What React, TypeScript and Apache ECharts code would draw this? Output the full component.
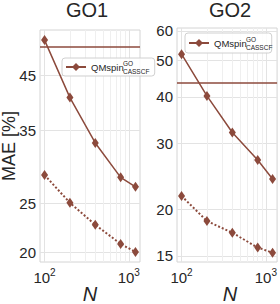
import React, { useEffect, useRef } from "react";
import * as echarts from "echarts";

const N = [100, 200, 400, 800, 1200];
const go1Solid = [52.8, 40.6, 33.0, 28.2, 27.0];
const go1Dotted = [28.5, 25.1, 22.7, 20.8, 20.05];
const go1Ref = 51.4;
const go2Solid = [52.0, 40.2, 32.1, 27.1, 24.1];
const go2Dotted = [21.7, 18.6, 17.3, 15.8, 15.3];
const go2Ref = 43.3;
const go1Ticks = [20, 25, 35, 45];
const go2Ticks = [15, 20, 30, 40, 50, 60];
const xMajor = [100, 1000];
const xMinor = [200, 300, 400, 500, 600, 700, 800, 900];
const go1YRange = [19.15, 55.3];
const go2YRange = [14.45, 61.1];
const xRange = [88.3, 1358];

const COLOR = "#8C4A3C";
const FONT = "Liberation Sans, Arial, sans-serif";
const TXT = "#262626";
const lg = Math.log10;

function pts(vals: number[]) {
  return N.map((n, i) => [lg(n), lg(vals[i])]);
}

export default function App() {
  const ref = useRef<HTMLDivElement>(null);
  useEffect(() => {
    const chart = echarts.init(ref.current!, null, { renderer: "svg" });
    const grids = [
      { left: 40, top: 30, width: 100, height: 232 },
      { left: 177, top: 28, width: 103, height: 234 },
    ];
    const xMain = (gi: number) => ({
      type: "value",
      gridIndex: gi,
      min: lg(xRange[0]),
      max: lg(xRange[1]),
      axisLine: { show: false },
      axisTick: { show: false, customValues: xMajor.map(lg) },
      splitLine: { show: true, lineStyle: { color: "#e3e3e3", width: 1 } },
      axisLabel: {
        customValues: xMajor.map(lg),
        margin: 5,
        formatter: (v: number) => "{b|10}{s|" + Math.round(v) + "}",
        rich: {
          b: { fontSize: 15, fontFamily: FONT, color: TXT, lineHeight: 18, verticalAlign: "bottom" },
          s: { fontSize: 10, fontFamily: FONT, color: TXT, lineHeight: 10, verticalAlign: "top" },
        },
      },
    });
    const xMinorAxis = (gi: number) => ({
      type: "value",
      gridIndex: gi,
      min: lg(xRange[0]),
      max: lg(xRange[1]),
      axisLine: { show: false },
      axisTick: { show: false, customValues: xMinor.map(lg) },
      axisLabel: { show: false, customValues: xMinor.map(lg) },
      splitLine: { show: true, lineStyle: { color: "#efefef", width: 1 } },
    });
    const yAx = (gi: number, range: number[], ticks: number[]) => ({
      type: "value",
      gridIndex: gi,
      min: lg(range[0]),
      max: lg(range[1]),
      axisLine: { show: false },
      axisTick: { show: false, customValues: ticks.map(lg) },
      splitLine: { show: true, lineStyle: { color: "#e3e3e3", width: 1 } },
      axisLabel: {
        customValues: ticks.map(lg),
        margin: 4,
        fontSize: 15,
        fontFamily: FONT,
        color: TXT,
        formatter: (v: number) => String(Math.round(Math.pow(10, v))),
      },
    });
    const solid = (gi: number, vals: number[], refv: number) => ({
      name: "QMspin",
      type: "line",
      xAxisIndex: gi,
      yAxisIndex: gi,
      data: pts(vals),
      symbol: "diamond",
      symbolSize: [7, 10],
      itemStyle: { color: COLOR },
      lineStyle: { color: COLOR, width: 1.5 },
      z: 3,
      markLine: {
        silent: true,
        symbol: "none",
        label: { show: false },
        lineStyle: { color: COLOR, width: 1.5, type: "solid" },
        data: [{ yAxis: lg(refv) }],
      },
    });
    const dotted = (gi: number, vals: number[]) => ({
      name: "QMspin dotted " + gi,
      type: "line",
      xAxisIndex: gi,
      yAxisIndex: gi,
      data: pts(vals),
      symbol: "diamond",
      symbolSize: [7, 10],
      itemStyle: { color: COLOR },
      lineStyle: { color: COLOR, width: 2, type: [2, 2] },
      z: 3,
    });
    const legendBase = {
      data: ["QMspin"],
      orient: "horizontal",
      itemWidth: 20,
      itemHeight: 10,
      itemGap: 0,
      backgroundColor: "rgba(255,255,255,0.85)",
      borderColor: "#d0d0d0",
      borderWidth: 1,
      borderRadius: 3,
      textStyle: { fontSize: 9.5, fontFamily: FONT, color: TXT },
      selectedMode: false,
    };
    chart.setOption({
      animation: false,
      grid: grids.map((g) => ({ ...g, show: true, borderColor: "#d4d4d4", borderWidth: 1, backgroundColor: "#fff", containLabel: false })),
      xAxis: [xMain(0), xMain(1), xMinorAxis(0), xMinorAxis(1)],
      yAxis: [yAx(0, go1YRange, go1Ticks), yAx(1, go2YRange, go2Ticks)],
      legend: [
        { ...legendBase, left: 62, top: 58, padding: [4, 31, 4, 3] },
        { ...legendBase, left: 185, top: 33, padding: [5, 25, 5, 3] },
      ],
      series: [solid(0, go1Solid, go1Ref), dotted(0, go1Dotted), solid(1, go2Solid, go2Ref), dotted(1, go2Dotted)],
      graphic: [
        { type: "text", x: 87, y: 10, style: { text: "GO1", fontSize: 20, fontFamily: FONT, fill: TXT, textAlign: "center", textVerticalAlign: "middle" } },
        { type: "text", x: 230, y: 10, style: { text: "GO2", fontSize: 20, fontFamily: FONT, fill: TXT, textAlign: "center", textVerticalAlign: "middle" } },
        { type: "text", x: 9, y: 146, rotation: Math.PI / 2, style: { text: "MAE [%]", fontSize: 18, fontFamily: FONT, fill: TXT, textAlign: "center", textVerticalAlign: "middle" } },
        { type: "text", x: 90, y: 294, style: { text: "N", fontSize: 20, fontStyle: "italic", fontFamily: FONT, fill: TXT, textAlign: "center", textVerticalAlign: "middle" } },
        { type: "text", x: 230, y: 294, style: { text: "N", fontSize: 20, fontStyle: "italic", fontFamily: FONT, fill: TXT, textAlign: "center", textVerticalAlign: "middle" } },
        { type: "text", x: 123, y: 63, z: 100, style: { text: "GO", fontSize: 6.5, fontFamily: FONT, fill: TXT, textAlign: "left", textVerticalAlign: "middle" } },
        { type: "text", x: 123, y: 71, z: 100, style: { text: "CASSCF", fontSize: 6.5, fontFamily: FONT, fill: TXT, textAlign: "left", textVerticalAlign: "middle" } },
        { type: "text", x: 246, y: 39, z: 100, style: { text: "GO", fontSize: 6.5, fontFamily: FONT, fill: TXT, textAlign: "left", textVerticalAlign: "middle" } },
        { type: "text", x: 246, y: 47, z: 100, style: { text: "CASSCF", fontSize: 6.5, fontFamily: FONT, fill: TXT, textAlign: "left", textVerticalAlign: "middle" } },
      ],
    });
    return () => chart.dispose();
  }, []);
  return <div ref={ref} style={{ position: "absolute", left: 0, top: 0, width: 280, height: 304, background: "#fff" }} />;
}
